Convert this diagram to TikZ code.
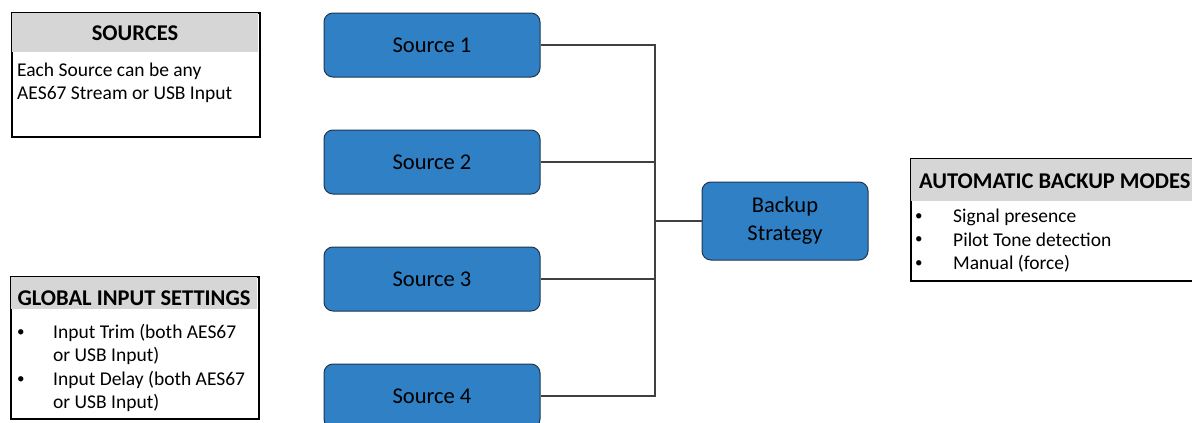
\documentclass[tikz,border=0pt]{standalone}
\usepackage{fontspec}
\setmainfont{Carlito}
\definecolor{boxblue}{HTML}{2F80C4}
\definecolor{boxline}{HTML}{1F3550}
\definecolor{hdrgray}{HTML}{D6D6D6}
\definecolor{wire}{HTML}{404040}
\tikzset{
  panel/.style={draw=black, line width=1.8pt, fill=white, inner sep=0pt, anchor=north west},
  header/.style={fill=hdrgray, inner sep=0pt, anchor=north west},
  ptitle/.style={font=\fontsize{22.5}{26}\selectfont\bfseries, inner sep=0pt},
  body/.style={font=\fontsize{19.5}{23}\selectfont, anchor=west, inner sep=0pt},
  bul/.style={font=\fontsize{15}{18}\selectfont, anchor=west, inner sep=0pt},
  srcbox/.style={draw=boxline, fill=boxblue, rounded corners=9pt, line width=1pt,
    minimum width=216pt, minimum height=64pt, font=\fontsize{22.5}{28}\selectfont, align=center},
  conn/.style={draw=wire, line width=1.2pt}
}
\begin{document}
\begin{tikzpicture}[x=1pt,y=-1pt]
\useasboundingbox (0,0) rectangle (1192,423);
\clip (0,0) rectangle (1192,423);
% SOURCES panel
\node[panel, minimum width=248pt, minimum height=124pt] (srcp) at (11,12) {};
\node[header, minimum width=246pt, minimum height=39pt] (srch) at (12,13) {};
\node[ptitle] (srct) at (135,33) {SOURCES};
\node[body] (srcl1) at (17,71) {Each Source can be any};
\node[body] (srcl2) at (17,94) {AES67 Stream or USB Input};
% GLOBAL panel
\node[panel, minimum width=248pt, minimum height=142pt] (glp) at (10,276) {};
\node[header, minimum width=246pt, minimum height=32pt] (glh) at (11,277) {};
\node[ptitle] (glt) at (134,298) {GLOBAL INPUT SETTINGS};
\node[bul] (glb1) at (17,333) {•};
\node[body] (gl1) at (53,333) {Input Trim (both AES67};
\node[body] (gl2) at (53,356) {or USB Input)};
\node[bul] (glb2) at (17,380) {•};
\node[body] (gl3) at (53,380) {Input Delay (both AES67};
\node[body] (gl4) at (53,403) {or USB Input)};
% AUTOMATIC panel
\node[panel, minimum width=300pt, minimum height=122pt] (amp) at (910,158) {};
\node[header, minimum width=298pt, minimum height=42pt] (amh) at (911,159) {};
\node[ptitle, anchor=west] (amt) at (919,181) {AUTOMATIC BACKUP MODES};
\node[bul] (amb1) at (915,217) {•};
\node[body] (am1) at (953,217) {Signal presence};
\node[bul] (amb2) at (915,240) {•};
\node[body] (am2) at (953,240) {Pilot Tone detection};
\node[bul] (amb3) at (915,264) {•};
\node[body] (am3) at (953,264) {Manual (force)};
% sources
\node[srcbox] (s1) at (432,45) {Source 1};
\node[srcbox] (s2) at (432,162) {Source 2};
\node[srcbox] (s3) at (432,279) {Source 3};
\node[srcbox] (s4) at (432,396) {Source 4};
\node[srcbox, minimum width=166pt, minimum height=78pt] (bk) at (785,221) {Backup\\Strategy};
% connectors
\coordinate (j) at (655,221);
\draw[conn] (s1.east) -| (j);
\draw[conn] (s4.east) -| (j);
\draw[conn] (s2.east) -- (s2.east -| j);
\draw[conn] (s3.east) -- (s3.east -| j);
\draw[conn] (j) -- (bk.west);
\end{tikzpicture}
\end{document}
